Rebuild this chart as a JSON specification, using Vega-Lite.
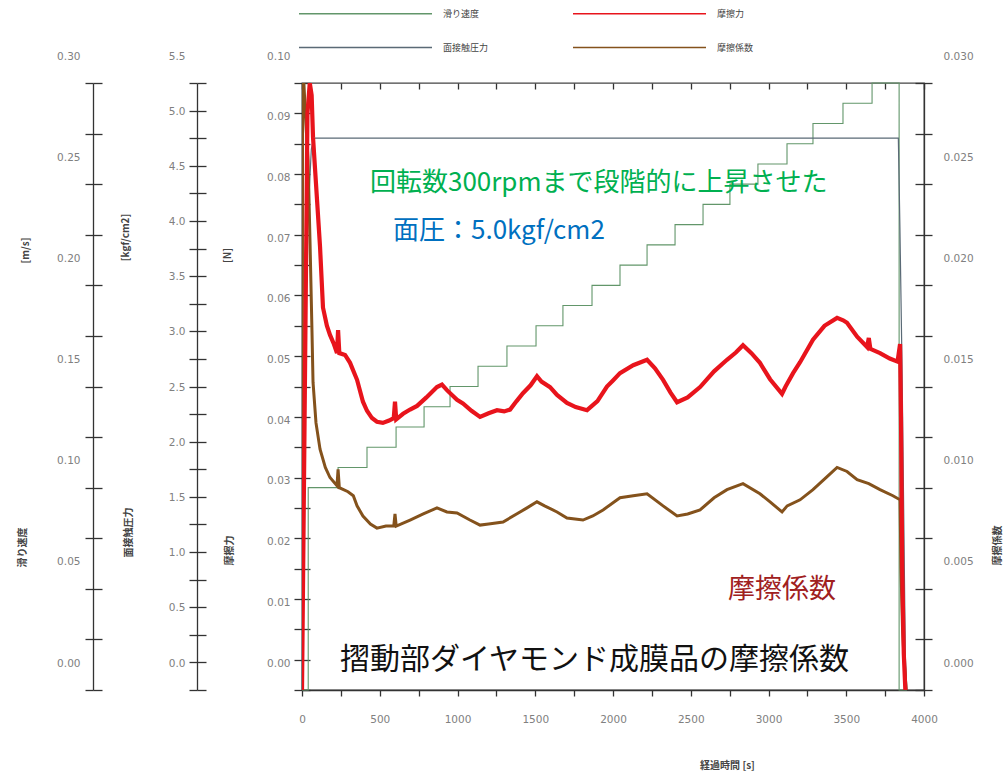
{
  "$schema": "https://vega.github.io/schema/vega-lite/v6.json",
  "width": 622,
  "height": 607,
  "autosize": "none",
  "padding": {"left": 302, "top": 83, "right": 79, "bottom": 84},
  "background": "white",
  "config": {
    "view": {"stroke": "#444", "strokeWidth": 1.3},
    "axis": {
      "grid": false,
      "labelFont": "DejaVu Sans",
      "labelFontSize": 10.5,
      "labelColor": "#808080",
      "tickColor": "#333",
      "tickWidth": 1.3,
      "domainColor": "#333",
      "domainWidth": 1.3,
      "titleFont": "Noto Sans CJK JP",
      "titleFontSize": 10,
      "titleFontWeight": "bold",
      "titleColor": "#444",
      "labelOverlap": false,
      "labelBound": false,
      "labelFlush": false,
      "titleBaseline": "middle",
      "titleAlign": "center"
    },
    "legend": {
      "orient": "none",
      "legendX": -4,
      "legendY": -74,
      "columns": 2,
      "symbolType": "M-1,0H37",
      "symbolSize": 49,
      "symbolStrokeWidth": 1.4,
      "labelOffset": 136,
      "labelFont": "Noto Sans CJK JP",
      "labelFontSize": 9,
      "labelColor": "#444",
      "rowPadding": 24,
      "columnPadding": 81,
      "padding": 0,
      "title": null
    }
  },
  "datasets": {
    "speed": [
      {"t": 0, "v": 0, "s": "滑り速度"}, {"t": 40, "v": 0.10, "s": "滑り速度"}, {"t": 232, "v": 0.11, "s": "滑り速度"},
      {"t": 418, "v": 0.12, "s": "滑り速度"}, {"t": 605, "v": 0.13, "s": "滑り速度"}, {"t": 785, "v": 0.14, "s": "滑り速度"},
      {"t": 952, "v": 0.15, "s": "滑り速度"}, {"t": 1132, "v": 0.16, "s": "滑り速度"}, {"t": 1318, "v": 0.17, "s": "滑り速度"},
      {"t": 1505, "v": 0.18, "s": "滑り速度"}, {"t": 1678, "v": 0.19, "s": "滑り速度"}, {"t": 1865, "v": 0.20, "s": "滑り速度"},
      {"t": 2045, "v": 0.21, "s": "滑り速度"}, {"t": 2219, "v": 0.22, "s": "滑り速度"}, {"t": 2399, "v": 0.23, "s": "滑り速度"},
      {"t": 2579, "v": 0.24, "s": "滑り速度"}, {"t": 2752, "v": 0.25, "s": "滑り速度"}, {"t": 2932, "v": 0.26, "s": "滑り速度"},
      {"t": 3119, "v": 0.27, "s": "滑り速度"}, {"t": 3286, "v": 0.28, "s": "滑り速度"}, {"t": 3479, "v": 0.29, "s": "滑り速度"},
      {"t": 3666, "v": 0.30, "s": "滑り速度"}, {"t": 3840, "v": 0.0, "s": "滑り速度"}, {"t": 3890, "v": 0.0, "s": "滑り速度"}
    ],
    "pressure": [
      {"t": 0, "v": 0, "s": "面接触圧力"}, {"t": 15, "v": 2.5, "s": "面接触圧力"}, {"t": 35, "v": 4.2, "s": "面接触圧力"},
      {"t": 60, "v": 4.9, "s": "面接触圧力"}, {"t": 75, "v": 5.0, "s": "面接触圧力"}, {"t": 3835, "v": 5.0, "s": "面接触圧力"},
      {"t": 3845, "v": 4.2, "s": "面接触圧力"}, {"t": 3858, "v": 3.0, "s": "面接触圧力"}, {"t": 3868, "v": 1.8, "s": "面接触圧力"},
      {"t": 3880, "v": 0.3, "s": "面接触圧力"}, {"t": 3890, "v": 0, "s": "面接触圧力"}
    ],
    "force": [
      {"t": 0, "v": 0.0}, {"t": 15, "v": 0.04}, {"t": 35, "v": 0.095}, {"t": 50, "v": 0.1}, {"t": 62, "v": 0.098},
      {"t": 71, "v": 0.091}, {"t": 96, "v": 0.081}, {"t": 116, "v": 0.073}, {"t": 135, "v": 0.063}, {"t": 160, "v": 0.060},
      {"t": 180, "v": 0.0585}, {"t": 205, "v": 0.057}, {"t": 225, "v": 0.0555}, {"t": 232, "v": 0.0593}, {"t": 240, "v": 0.0555},
      {"t": 277, "v": 0.0552}, {"t": 309, "v": 0.0539}, {"t": 354, "v": 0.0511}, {"t": 392, "v": 0.0475}, {"t": 418, "v": 0.046},
      {"t": 450, "v": 0.0448}, {"t": 482, "v": 0.0442}, {"t": 520, "v": 0.0440}, {"t": 560, "v": 0.0444}, {"t": 590, "v": 0.0448},
      {"t": 598, "v": 0.0475}, {"t": 606, "v": 0.0446}, {"t": 650, "v": 0.0455}, {"t": 695, "v": 0.0462}, {"t": 740, "v": 0.0468},
      {"t": 800, "v": 0.0482}, {"t": 868, "v": 0.0499}, {"t": 900, "v": 0.0503}, {"t": 932, "v": 0.0494}, {"t": 997, "v": 0.0478},
      {"t": 1035, "v": 0.0472}, {"t": 1090, "v": 0.0460}, {"t": 1145, "v": 0.0450}, {"t": 1200, "v": 0.0456}, {"t": 1254, "v": 0.0461},
      {"t": 1300, "v": 0.0459}, {"t": 1338, "v": 0.0462}, {"t": 1380, "v": 0.0476}, {"t": 1421, "v": 0.0489}, {"t": 1470, "v": 0.0502},
      {"t": 1511, "v": 0.0517}, {"t": 1540, "v": 0.0508}, {"t": 1595, "v": 0.0499}, {"t": 1640, "v": 0.0486}, {"t": 1704, "v": 0.0473},
      {"t": 1760, "v": 0.0466}, {"t": 1833, "v": 0.0461}, {"t": 1900, "v": 0.0476}, {"t": 1961, "v": 0.0500}, {"t": 2000, "v": 0.0510},
      {"t": 2045, "v": 0.0522}, {"t": 2130, "v": 0.0535}, {"t": 2219, "v": 0.0544}, {"t": 2270, "v": 0.0530}, {"t": 2322, "v": 0.0511},
      {"t": 2370, "v": 0.0490}, {"t": 2412, "v": 0.0474}, {"t": 2480, "v": 0.0482}, {"t": 2560, "v": 0.0499}, {"t": 2650, "v": 0.0525},
      {"t": 2733, "v": 0.0544}, {"t": 2790, "v": 0.0556}, {"t": 2836, "v": 0.0568}, {"t": 2890, "v": 0.0555}, {"t": 2945, "v": 0.0539},
      {"t": 3010, "v": 0.0512}, {"t": 3087, "v": 0.0488}, {"t": 3110, "v": 0.0500}, {"t": 3158, "v": 0.0522}, {"t": 3203, "v": 0.0540},
      {"t": 3286, "v": 0.0577}, {"t": 3360, "v": 0.0600}, {"t": 3441, "v": 0.0613}, {"t": 3480, "v": 0.0609}, {"t": 3505, "v": 0.0605},
      {"t": 3570, "v": 0.0582}, {"t": 3634, "v": 0.0565}, {"t": 3645, "v": 0.0580}, {"t": 3655, "v": 0.0562}, {"t": 3717, "v": 0.0555},
      {"t": 3780, "v": 0.0546}, {"t": 3830, "v": 0.0541}, {"t": 3846, "v": 0.0570}, {"t": 3852, "v": 0.045}, {"t": 3860, "v": 0.02},
      {"t": 3870, "v": 0.006}, {"t": 3880, "v": 0.0}
    ],
    "coef": [
      {"t": 0, "v": 0}, {"t": 4, "v": 0.03}, {"t": 12, "v": 0.03}, {"t": 25, "v": 0.028}, {"t": 39, "v": 0.0262},
      {"t": 52, "v": 0.022}, {"t": 64, "v": 0.0178}, {"t": 71, "v": 0.0152}, {"t": 90, "v": 0.0132}, {"t": 116, "v": 0.0119},
      {"t": 150, "v": 0.0110}, {"t": 180, "v": 0.0105}, {"t": 225, "v": 0.0101}, {"t": 232, "v": 0.0109}, {"t": 240, "v": 0.0100},
      {"t": 296, "v": 0.0098}, {"t": 330, "v": 0.0096}, {"t": 354, "v": 0.0091}, {"t": 392, "v": 0.0086}, {"t": 440, "v": 0.0082},
      {"t": 482, "v": 0.0080}, {"t": 540, "v": 0.0081}, {"t": 590, "v": 0.0081}, {"t": 598, "v": 0.0087}, {"t": 606, "v": 0.0081},
      {"t": 695, "v": 0.0084}, {"t": 780, "v": 0.0087}, {"t": 868, "v": 0.0090}, {"t": 932, "v": 0.0088}, {"t": 997, "v": 0.00875},
      {"t": 1080, "v": 0.0084}, {"t": 1145, "v": 0.00815}, {"t": 1200, "v": 0.0082}, {"t": 1293, "v": 0.0083}, {"t": 1380, "v": 0.0087},
      {"t": 1447, "v": 0.0090}, {"t": 1511, "v": 0.0093}, {"t": 1560, "v": 0.0091}, {"t": 1640, "v": 0.0088}, {"t": 1704, "v": 0.0085},
      {"t": 1807, "v": 0.0084}, {"t": 1870, "v": 0.0086}, {"t": 1936, "v": 0.0089}, {"t": 2045, "v": 0.0095}, {"t": 2130, "v": 0.0096},
      {"t": 2219, "v": 0.0097}, {"t": 2322, "v": 0.0091}, {"t": 2412, "v": 0.0086}, {"t": 2480, "v": 0.0087}, {"t": 2560, "v": 0.0089},
      {"t": 2650, "v": 0.0095}, {"t": 2733, "v": 0.0099}, {"t": 2836, "v": 0.0102}, {"t": 2945, "v": 0.0097}, {"t": 3010, "v": 0.0093},
      {"t": 3087, "v": 0.0088}, {"t": 3120, "v": 0.0091}, {"t": 3203, "v": 0.0094}, {"t": 3286, "v": 0.0099}, {"t": 3370, "v": 0.0105},
      {"t": 3441, "v": 0.0110}, {"t": 3505, "v": 0.0108}, {"t": 3570, "v": 0.0104}, {"t": 3645, "v": 0.0102}, {"t": 3717, "v": 0.0099},
      {"t": 3800, "v": 0.0096}, {"t": 3846, "v": 0.0094}, {"t": 3852, "v": 0.006}, {"t": 3862, "v": 0.003}, {"t": 3872, "v": 0.0015},
      {"t": 3885, "v": 0.0}
    ],
    "noteGreen": [{"t": 437, "v": 0.0835, "label": "回転数300rpmまで段階的に上昇させた"}],
    "noteBlue": [{"t": 585, "v": 0.0756, "label": "面圧：5.0kgf/cm2"}],
    "noteRed": [{"t": 2740, "v": 0.0165, "label": "摩擦係数"}],
    "noteBlack": [{"t": 244, "v": 0.0049, "label": "摺動部ダイヤモンド成膜品の摩擦係数"}]
  },
  "layer": [
    {
      "data": {"name": "speed"},
      "mark": {"type": "line", "interpolate": "step-after", "strokeWidth": 1.1},
      "encoding": {
        "x": {"field": "t", "type": "quantitative", "scale": {"domain": [0, 4000], "nice": false}, "axis": null},
        "y": {"field": "v", "type": "quantitative", "scale": {"domain": [0, 0.3], "nice": false},
          "axis": {"orient": "left", "offset": 209, "values": [0, 0.025, 0.05, 0.075, 0.1, 0.125, 0.15, 0.175, 0.2, 0.225, 0.25, 0.275, 0.3],
            "labelExpr": "round(datum.value*1000) % 50 === 0 ? format(datum.value, '.2f') : ''",
            "tickSize": 8, "labelPadding": 5, "labelOffset": -27,
            "title": "滑り速度", "titleX": -71, "titleY": 464}},
        "color": {"field": "s", "type": "nominal",
          "scale": {"domain": ["滑り速度", "面接触圧力", "摩擦力", "摩擦係数"], "range": ["#62966a", "#5a6a76", "#e8141c", "#84521c"]}}
      }
    },
    {
      "data": {"name": "speed"},
      "mark": {"type": "line", "strokeOpacity": 0},
      "encoding": {
        "x": {"field": "t", "type": "quantitative", "scale": {"domain": [0, 4000], "nice": false}, "axis": null},
        "y": {"field": "v", "type": "quantitative", "scale": {"domain": [0, 0.3], "nice": false},
          "axis": {"orient": "left", "offset": 209, "values": [0, 0.025, 0.05, 0.075, 0.1, 0.125, 0.15, 0.175, 0.2, 0.225, 0.25, 0.275, 0.3],
            "labels": false, "domain": false, "tickSize": -9,
            "title": "[m/s]", "titleX": -68, "titleY": 167}}
      }
    },
    {
      "data": {"name": "pressure"},
      "mark": {"type": "line", "strokeWidth": 1.2},
      "encoding": {
        "x": {"field": "t", "type": "quantitative", "scale": {"domain": [0, 4000], "nice": false}, "axis": null},
        "y": {"field": "v", "type": "quantitative", "scale": {"domain": [0, 5.5], "nice": false},
          "axis": {"orient": "left", "offset": 105, "values": [0, 0.25, 0.5, 0.75, 1, 1.25, 1.5, 1.75, 2, 2.25, 2.5, 2.75, 3, 3.25, 3.5, 3.75, 4, 4.25, 4.5, 4.75, 5, 5.25, 5.5],
            "labelExpr": "round(datum.value*100) % 50 === 0 ? format(datum.value, '.1f') : ''",
            "tickSize": 8, "labelPadding": 4, "labelOffset": -27,
            "title": "面接触圧力", "titleX": -69, "titleY": 449}},
        "color": {"field": "s", "type": "nominal",
          "scale": {"domain": ["滑り速度", "面接触圧力", "摩擦力", "摩擦係数"], "range": ["#62966a", "#5a6a76", "#e8141c", "#84521c"]}}
      }
    },
    {
      "data": {"name": "pressure"},
      "mark": {"type": "line", "strokeOpacity": 0},
      "encoding": {
        "x": {"field": "t", "type": "quantitative", "scale": {"domain": [0, 4000], "nice": false}, "axis": null},
        "y": {"field": "v", "type": "quantitative", "scale": {"domain": [0, 5.5], "nice": false},
          "axis": {"orient": "left", "offset": 105, "values": [0, 0.25, 0.5, 0.75, 1, 1.25, 1.5, 1.75, 2, 2.25, 2.5, 2.75, 3, 3.25, 3.5, 3.75, 4, 4.25, 4.5, 4.75, 5, 5.25, 5.5],
            "labels": false, "domain": false, "tickSize": -9,
            "title": "[kgf/cm2]", "titleX": -72, "titleY": 154}}
      }
    },
    {
      "data": {"name": "coef"},
      "transform": [{"calculate": "'摩擦係数'", "as": "s"}],
      "mark": {"type": "line", "strokeWidth": 3, "clip": true},
      "encoding": {
        "x": {"field": "t", "type": "quantitative", "scale": {"domain": [0, 4000], "nice": false}, "axis": null},
        "y": {"field": "v", "type": "quantitative", "scale": {"domain": [0, 0.03], "nice": false},
          "axis": {"orient": "right", "values": [0, 0.0025, 0.005, 0.0075, 0.01, 0.0125, 0.015, 0.0175, 0.02, 0.0225, 0.025, 0.0275, 0.03],
            "labelExpr": "round(datum.value*10000) % 50 === 0 ? format(datum.value, '.3f') : ''",
            "tickSize": 8, "labelPadding": 11, "labelOffset": -27,
            "title": "摩擦係数", "titleAngle": -90, "titleX": 73, "titleY": 462}},
        "color": {"field": "s", "type": "nominal",
          "scale": {"domain": ["滑り速度", "面接触圧力", "摩擦力", "摩擦係数"], "range": ["#62966a", "#5a6a76", "#e8141c", "#84521c"]}}
      }
    },
    {
      "data": {"name": "coef"},
      "mark": {"type": "line", "strokeOpacity": 0},
      "encoding": {
        "x": {"field": "t", "type": "quantitative", "scale": {"domain": [0, 4000], "nice": false}, "axis": null},
        "y": {"field": "v", "type": "quantitative", "scale": {"domain": [0, 0.03], "nice": false},
          "axis": {"orient": "right", "values": [0, 0.0025, 0.005, 0.0075, 0.01, 0.0125, 0.015, 0.0175, 0.02, 0.0225, 0.025, 0.0275, 0.03],
            "labels": false, "domain": false, "tickSize": -9, "title": null}}
      }
    },
    {
      "data": {"name": "force"},
      "transform": [{"calculate": "'摩擦力'", "as": "s"}],
      "mark": {"type": "line", "strokeWidth": 4.2, "clip": true},
      "encoding": {
        "x": {"field": "t", "type": "quantitative", "scale": {"domain": [0, 4000], "nice": false},
          "axis": {"values": [0, 250, 500, 750, 1000, 1250, 1500, 1750, 2000, 2250, 2500, 2750, 3000, 3250, 3500, 3750, 4000],
            "labelExpr": "datum.value % 500 === 0 ? format(datum.value, 'd') : ''",
            "tickSize": 6, "labelPadding": 18,
            "title": "経過時間 [s]", "titleX": 425, "titleY": 75}},
        "y": {"field": "v", "type": "quantitative", "scale": {"domain": [0, 0.1], "nice": false},
          "axis": {"orient": "left", "values": [0, 0.005, 0.01, 0.015, 0.02, 0.025, 0.03, 0.035, 0.04, 0.045, 0.05, 0.055, 0.06, 0.065, 0.07, 0.075, 0.08, 0.085, 0.09, 0.095, 0.1],
            "labelExpr": "round(datum.value*1000) % 10 === 0 ? format(datum.value, '.2f') : ''",
            "tickSize": 8, "labelPadding": 4, "labelOffset": -27,
            "title": "摩擦力", "titleX": -73, "titleY": 467}},
        "color": {"field": "s", "type": "nominal",
          "scale": {"domain": ["滑り速度", "面接触圧力", "摩擦力", "摩擦係数"], "range": ["#62966a", "#5a6a76", "#e8141c", "#84521c"]}}
      }
    },
    {
      "data": {"name": "force"},
      "mark": {"type": "line", "strokeOpacity": 0},
      "encoding": {
        "x": {"field": "t", "type": "quantitative", "scale": {"domain": [0, 4000], "nice": false},
          "axis": {"values": [0, 250, 500, 750, 1000, 1250, 1500, 1750, 2000, 2250, 2500, 2750, 3000, 3250, 3500, 3750, 4000],
            "labels": false, "domain": false, "tickSize": -6, "title": null}},
        "y": {"field": "v", "type": "quantitative", "scale": {"domain": [0, 0.1], "nice": false},
          "axis": {"orient": "left", "values": [0, 0.005, 0.01, 0.015, 0.02, 0.025, 0.03, 0.035, 0.04, 0.045, 0.05, 0.055, 0.06, 0.065, 0.07, 0.075, 0.08, 0.085, 0.09, 0.095, 0.1],
            "labels": false, "domain": false, "tickSize": -8,
            "title": "[N]", "titleX": -75, "titleY": 172}}
      }
    },
    {
      "data": {"name": "noteGreen"},
      "mark": {"type": "text", "align": "left", "baseline": "middle", "font": "Noto Sans CJK JP", "fontSize": 26, "color": "#00b050"},
      "encoding": {
        "x": {"field": "t", "type": "quantitative", "scale": {"domain": [0, 4000], "nice": false}, "axis": null},
        "y": {"field": "v", "type": "quantitative", "scale": {"domain": [0, 0.1], "nice": false}, "axis": null},
        "text": {"field": "label"}
      }
    },
    {
      "data": {"name": "noteBlue"},
      "mark": {"type": "text", "align": "left", "baseline": "middle", "font": "Noto Sans CJK JP", "fontSize": 26, "color": "#0070c0"},
      "encoding": {
        "x": {"field": "t", "type": "quantitative", "scale": {"domain": [0, 4000], "nice": false}, "axis": null},
        "y": {"field": "v", "type": "quantitative", "scale": {"domain": [0, 0.1], "nice": false}, "axis": null},
        "text": {"field": "label"}
      }
    },
    {
      "data": {"name": "noteRed"},
      "mark": {"type": "text", "align": "left", "baseline": "middle", "font": "Noto Sans CJK JP", "fontSize": 27, "color": "#a0201e"},
      "encoding": {
        "x": {"field": "t", "type": "quantitative", "scale": {"domain": [0, 4000], "nice": false}, "axis": null},
        "y": {"field": "v", "type": "quantitative", "scale": {"domain": [0, 0.1], "nice": false}, "axis": null},
        "text": {"field": "label"}
      }
    },
    {
      "data": {"name": "noteBlack"},
      "mark": {"type": "text", "align": "left", "baseline": "middle", "font": "Noto Sans CJK JP", "fontSize": 30, "color": "#111"},
      "encoding": {
        "x": {"field": "t", "type": "quantitative", "scale": {"domain": [0, 4000], "nice": false}, "axis": null},
        "y": {"field": "v", "type": "quantitative", "scale": {"domain": [0, 0.1], "nice": false}, "axis": null},
        "text": {"field": "label"}
      }
    }
  ],
  "resolve": {"scale": {"y": "independent"}, "axis": {"x": "independent"}}
}
